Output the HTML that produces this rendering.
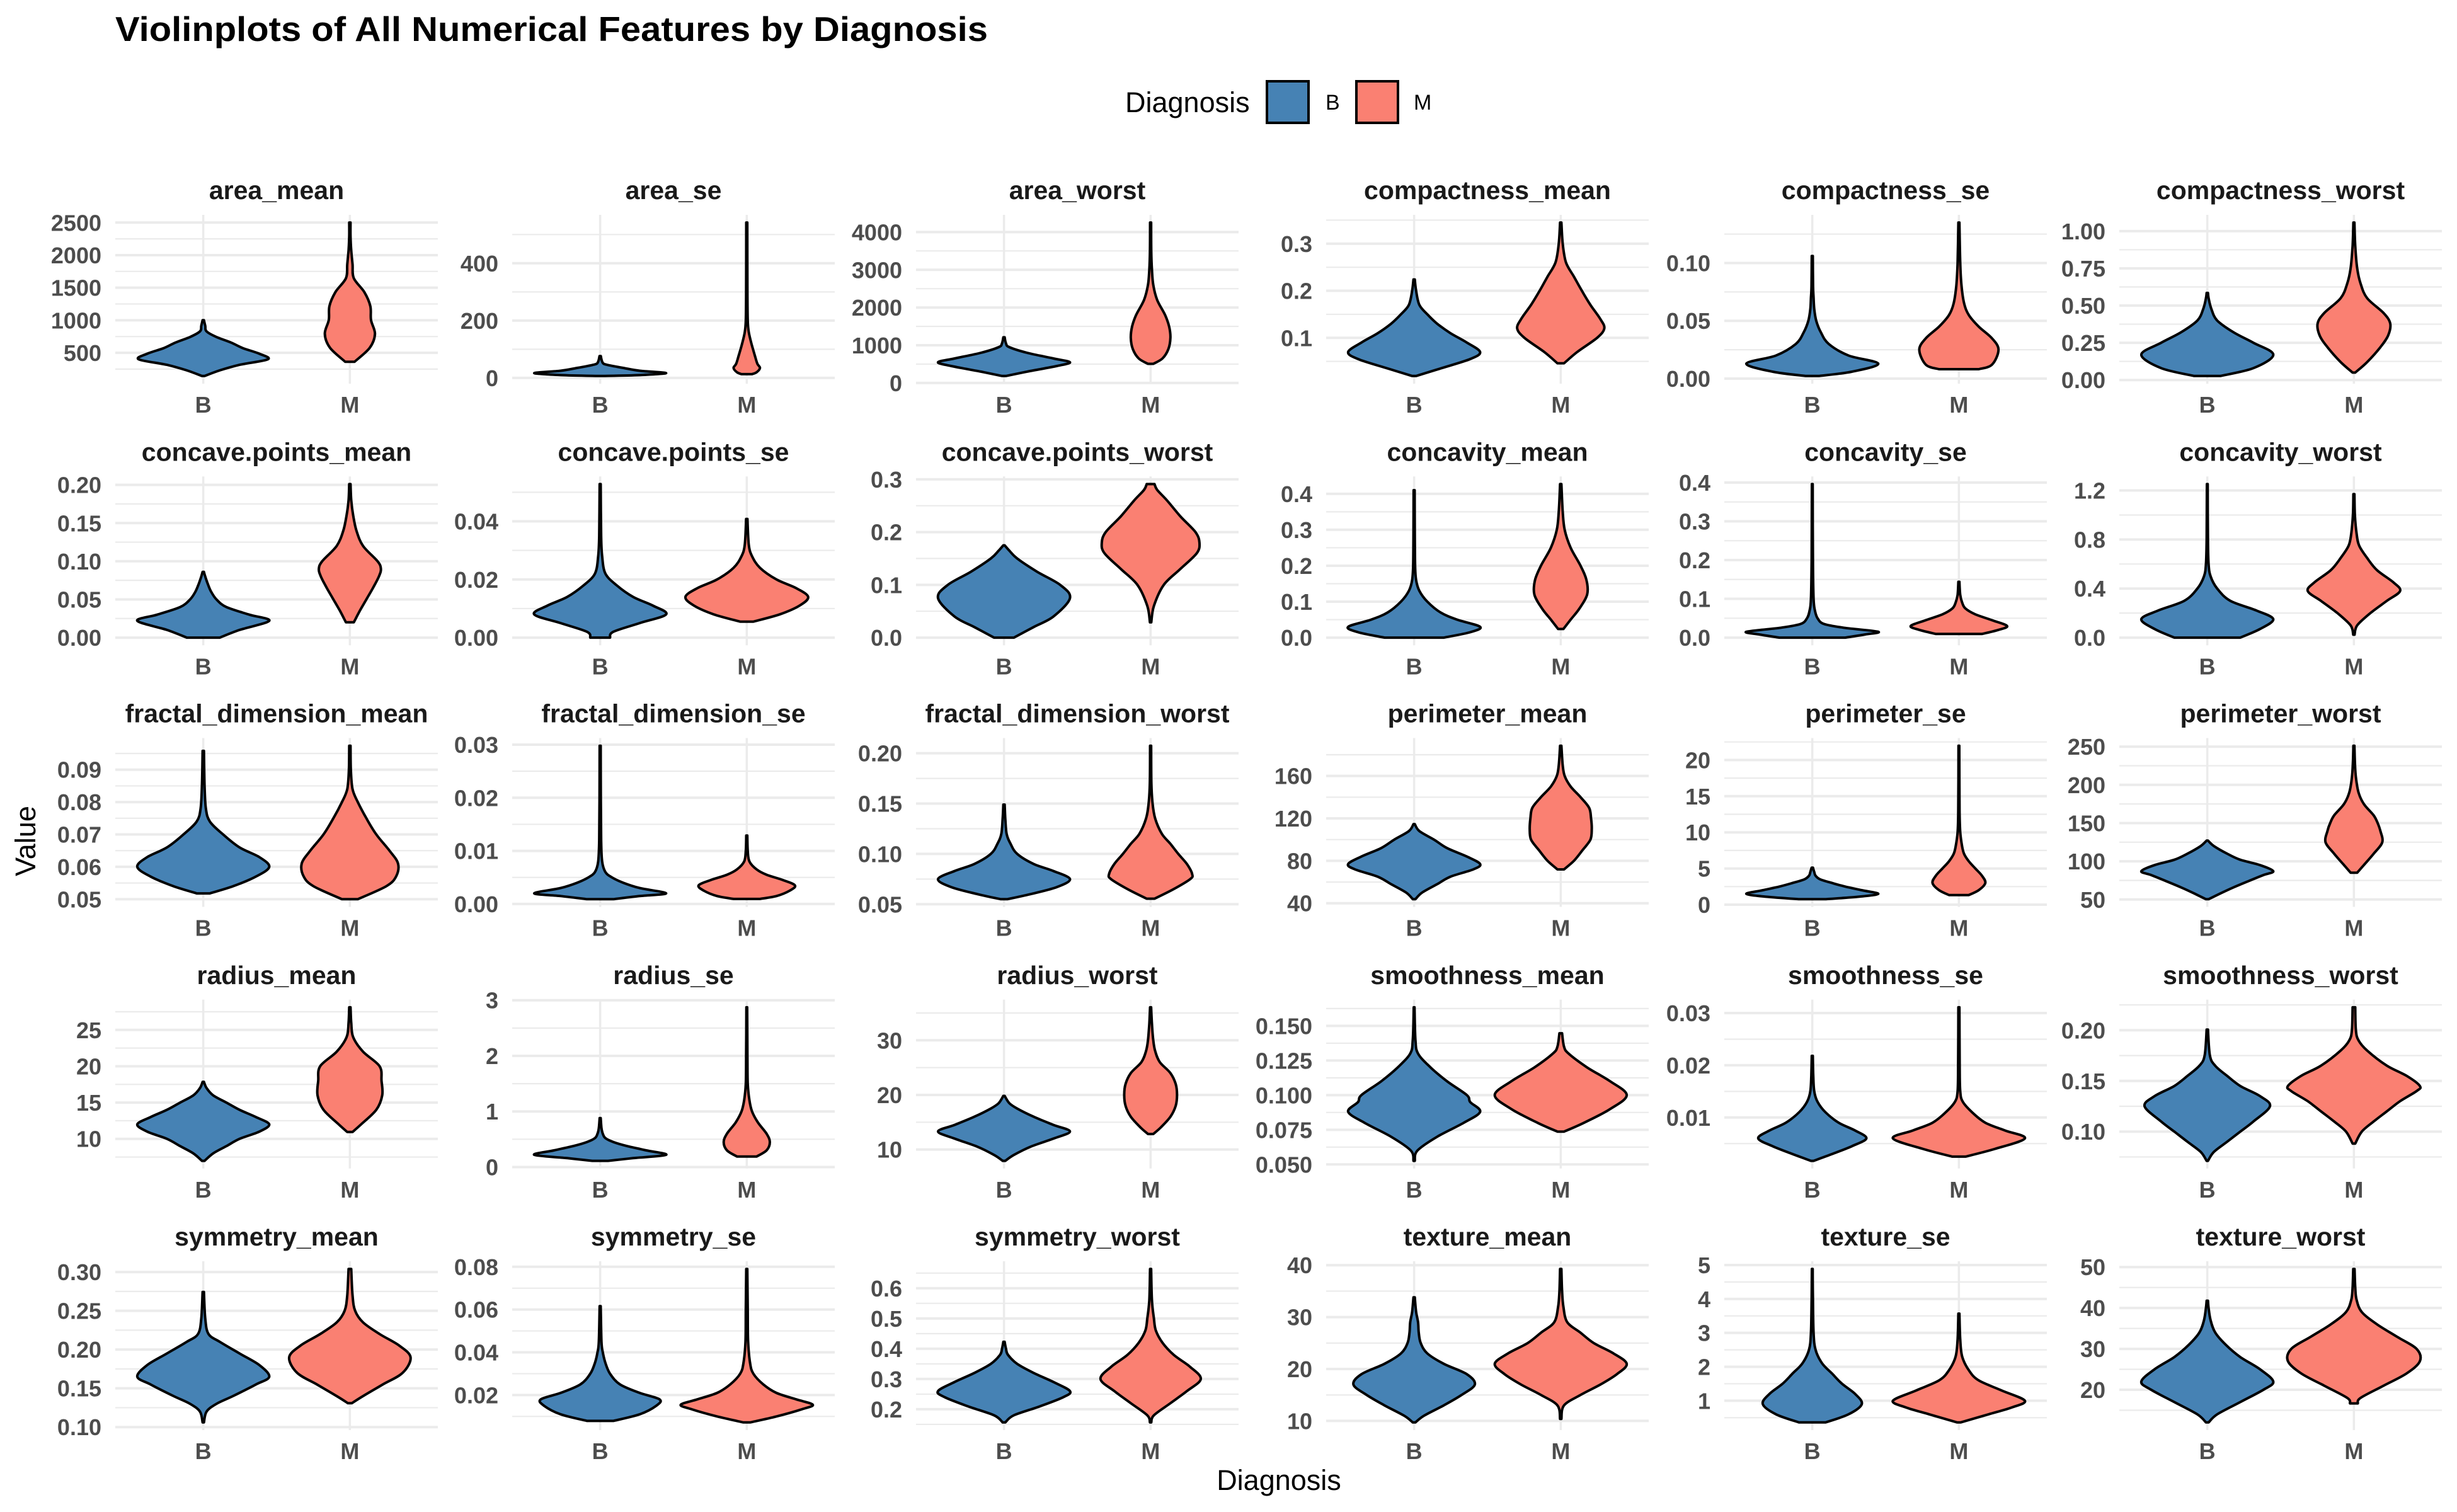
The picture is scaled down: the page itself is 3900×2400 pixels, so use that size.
<!DOCTYPE html>
<html><head><meta charset="utf-8"><title>Violinplots</title>
<style>html,body{margin:0;padding:0;background:#fff}svg{display:block}</style></head>
<body>
<svg id="chart" xmlns="http://www.w3.org/2000/svg" width="3900" height="2400" viewBox="0 0 3900 2400" font-family="'Liberation Sans', Arial, sans-serif">
<rect x="0" y="0" width="3900" height="2400" fill="#fff"/>
<text x="183" y="65" font-size="55" font-weight="bold" fill="#000" textLength="1385" lengthAdjust="spacingAndGlyphs">Violinplots of All Numerical Features by Diagnosis</text>
<g>
<text x="1786" y="178" font-size="45" fill="#000">Diagnosis</text>
<rect x="2011" y="129" width="66" height="66" fill="#4682B4" stroke="#000" stroke-width="4"/>
<text x="2104" y="174" font-size="34" fill="#000">B</text>
<rect x="2153" y="129" width="66" height="66" fill="#FA8072" stroke="#000" stroke-width="4"/>
<text x="2244" y="174" font-size="34" fill="#000">M</text>
</g>
<text transform="translate(56,1335) rotate(-90)" text-anchor="middle" font-size="45" fill="#000">Value</text>
<text x="2030" y="2365" text-anchor="middle" font-size="45" fill="#000">Diagnosis</text>
<g id="panels"></g>
</svg>
<script>
const features = ["area_mean","area_se","area_worst","compactness_mean","compactness_se","compactness_worst",
"concave.points_mean","concave.points_se","concave.points_worst","concavity_mean","concavity_se","concavity_worst",
"fractal_dimension_mean","fractal_dimension_se","fractal_dimension_worst","perimeter_mean","perimeter_se","perimeter_worst",
"radius_mean","radius_se","radius_worst","smoothness_mean","smoothness_se","smoothness_worst",
"symmetry_mean","symmetry_se","symmetry_worst","texture_mean","texture_se","texture_worst"];
const categories = ["B","M"];
const tickValues = [
[500,1000,1500,2000,2500],[0,200,400],[0,1000,2000,3000,4000],[0.1,0.2,0.3],[0,0.05,0.1],[0,0.25,0.5,0.75,1],
[0,0.05,0.1,0.15,0.2],[0,0.02,0.04],[0,0.1,0.2,0.3],[0,0.1,0.2,0.3,0.4],[0,0.1,0.2,0.3,0.4],[0,0.4,0.8,1.2],
[0.05,0.06,0.07,0.08,0.09],[0,0.01,0.02,0.03],[0.05,0.1,0.15,0.2],[40,80,120,160],[0,5,10,15,20],[50,100,150,200,250],
[10,15,20,25],[0,1,2,3],[10,20,30],[0.05,0.075,0.1,0.125,0.15],[0.01,0.02,0.03],[0.1,0.15,0.2],
[0.1,0.15,0.2,0.25,0.3],[0.02,0.04,0.06,0.08],[0.2,0.3,0.4,0.5,0.6],[10,20,30,40],[1,2,3,4,5],[20,30,40,50]];
const tickLabels = [
["500","1000","1500","2000","2500"],["0","200","400"],["0","1000","2000","3000","4000"],["0.1","0.2","0.3"],["0.00","0.05","0.10"],["0.00","0.25","0.50","0.75","1.00"],
["0.00","0.05","0.10","0.15","0.20"],["0.00","0.02","0.04"],["0.0","0.1","0.2","0.3"],["0.0","0.1","0.2","0.3","0.4"],["0.0","0.1","0.2","0.3","0.4"],["0.0","0.4","0.8","1.2"],
["0.05","0.06","0.07","0.08","0.09"],["0.00","0.01","0.02","0.03"],["0.05","0.10","0.15","0.20"],["40","80","120","160"],["0","5","10","15","20"],["50","100","150","200","250"],
["10","15","20","25"],["0","1","2","3"],["10","20","30"],["0.050","0.075","0.100","0.125","0.150"],["0.01","0.02","0.03"],["0.10","0.15","0.20"],
["0.10","0.15","0.20","0.25","0.30"],["0.02","0.04","0.06","0.08"],["0.2","0.3","0.4","0.5","0.6"],["10","20","30","40"],["1","2","3","4","5"],["20","30","40","50"]];
const bValues = [
[144,230,315,401,486,572,658,743,829,914,1000],
[6.8,10,17,25,35,45,50,60,76],
[185,300,450,550,650,800,950,1050,1210],
[0.019,0.035,0.055,0.07,0.09,0.11,0.13,0.15,0.17,0.2,0.224],
[0.0023,0.006,0.013,0.02,0.03,0.04,0.05,0.06,0.07,0.08,0.106],
[0.027,0.08,0.17,0.25,0.32,0.4,0.48,0.55,0.585],
[0,0.01,0.022,0.03,0.04,0.05,0.06,0.07,0.08,0.086],
[0,0.002,0.005,0.008,0.011,0.014,0.018,0.022,0.028,0.035,0.0528],
[0,0.02,0.04,0.075,0.1,0.125,0.15,0.165,0.175],
[0,0.015,0.03,0.05,0.07,0.1,0.13,0.16,0.2,0.3,0.41],
[0,0.008,0.015,0.025,0.035,0.05,0.07,0.1,0.2,0.396],
[0,0.07,0.15,0.22,0.3,0.4,0.5,0.6,0.8,1.252],
[0.0518,0.054,0.057,0.06,0.063,0.066,0.07,0.074,0.078,0.085,0.0958],
[0.0009,0.0015,0.002,0.003,0.004,0.005,0.006,0.008,0.012,0.02,0.0298],
[0.055,0.06,0.067,0.075,0.083,0.09,0.1,0.11,0.12,0.135,0.149],
[43.8,50,58,65,72,77,84,92,100,108,114.6],
[0.757,1.1,1.5,2,2.5,3,3.5,4,4.5,5.12],
[50.4,58,66,75,82,87,95,102,110,120,127.1],
[6.98,8,9,10,11,12,13,14,15,16,17,17.85],
[0.112,0.16,0.22,0.3,0.38,0.45,0.52,0.6,0.7,0.88],
[7.93,9,10.5,12,13.3,14.5,16,17.5,18.5,19.82],
[0.0526,0.06,0.07,0.08,0.088,0.095,0.1,0.11,0.12,0.13,0.14,0.1634],
[0.0017,0.003,0.0045,0.006,0.0075,0.009,0.011,0.013,0.015,0.018,0.0218],
[0.0712,0.08,0.09,0.1,0.11,0.125,0.135,0.145,0.155,0.165,0.175,0.2006],
[0.106,0.12,0.13,0.14,0.155,0.165,0.18,0.195,0.21,0.22,0.24,0.2743],
[0.0079,0.011,0.015,0.018,0.021,0.025,0.03,0.035,0.04,0.045,0.0616],
[0.1566,0.18,0.21,0.24,0.26,0.29,0.32,0.35,0.38,0.4,0.4228],
[9.71,11,13,15,17,19,21,23,25,27,29,31,33.81],
[0.3602,0.6,0.9,1.2,1.5,1.8,2.1,2.5,3,4,4.885],
[12.02,14,17,20,22,25,28,31,34,37,40,41.78]];
const bWidths = [
[0.02,0.25,0.55,0.98,0.85,0.6,0.42,0.2,0.05,0.03,0.01],
[0.05,0.6,1.0,0.6,0.35,0.12,0.05,0.025,0.01],
[0.03,0.35,0.8,1.0,0.75,0.35,0.08,0.03,0.01],
[0.03,0.4,0.85,1.0,0.8,0.55,0.35,0.2,0.08,0.03,0.01],
[0.1,0.6,1.0,0.55,0.25,0.13,0.06,0.03,0.02,0.012,0.008],
[0.2,0.7,1.0,0.7,0.4,0.15,0.06,0.02,0.01],
[0.25,0.55,1.0,0.7,0.35,0.2,0.12,0.07,0.03,0.01],
[0.15,0.2,0.6,1.0,0.8,0.5,0.25,0.08,0.03,0.015,0.008],
[0.15,0.45,0.75,1.0,0.85,0.5,0.2,0.08,0.01],
[0.45,0.85,1.0,0.65,0.4,0.2,0.08,0.03,0.015,0.01,0.008],
[0.5,0.8,1.0,0.5,0.18,0.08,0.04,0.02,0.01,0.006],
[0.5,0.8,1.0,0.75,0.35,0.15,0.05,0.02,0.01,0.006],
[0.1,0.45,0.8,1.0,0.85,0.55,0.3,0.1,0.04,0.02,0.01],
[0.2,0.6,1.0,0.6,0.35,0.18,0.08,0.03,0.015,0.01,0.008],
[0.05,0.4,0.8,1.0,0.75,0.45,0.2,0.1,0.04,0.02,0.01],
[0.02,0.12,0.35,0.55,0.9,1.0,0.8,0.5,0.3,0.08,0.01],
[0.2,0.7,1.0,0.75,0.5,0.3,0.12,0.05,0.03,0.01],
[0.02,0.2,0.4,0.65,0.85,1.0,0.8,0.5,0.3,0.1,0.01],
[0.02,0.15,0.35,0.55,0.85,1.0,0.8,0.55,0.35,0.15,0.05,0.01],
[0.12,0.5,1.0,0.7,0.4,0.2,0.08,0.04,0.02,0.008],
[0.02,0.15,0.4,0.75,1.0,0.75,0.45,0.2,0.08,0.01],
[0.01,0.05,0.35,0.75,1.0,0.85,0.8,0.5,0.25,0.06,0.02,0.006],
[0.02,0.3,0.6,0.82,0.65,0.4,0.2,0.08,0.03,0.015,0.008],
[0.01,0.1,0.3,0.5,0.7,0.95,0.8,0.5,0.3,0.12,0.04,0.01],
[0.01,0.05,0.2,0.45,0.8,1.0,0.85,0.55,0.25,0.08,0.03,0.01],
[0.2,0.6,0.85,0.9,0.6,0.3,0.15,0.08,0.04,0.02,0.008],
[0.02,0.15,0.55,0.9,1.0,0.75,0.45,0.2,0.06,0.03,0.01],
[0.02,0.15,0.45,0.72,0.92,0.8,0.45,0.2,0.1,0.07,0.06,0.03,0.01],
[0.2,0.55,0.75,0.65,0.45,0.3,0.15,0.05,0.02,0.01,0.006],
[0.02,0.15,0.5,0.85,1.0,0.8,0.5,0.28,0.12,0.05,0.02,0.01]];
const mValues = [
[362,576,790,1004,1217,1431,1645,1859,2073,2287,2501],
[13.3,20,35,50,80,120,160,200,300,542],
[508,650,900,1200,1500,1800,2200,2600,3000,3500,4254],
[0.046,0.07,0.1,0.12,0.14,0.17,0.2,0.23,0.26,0.3,0.345],
[0.0082,0.012,0.025,0.035,0.045,0.055,0.065,0.08,0.1,0.135],
[0.05,0.12,0.22,0.3,0.38,0.45,0.55,0.65,0.75,0.9,1.058],
[0.02,0.035,0.05,0.065,0.08,0.09,0.1,0.12,0.14,0.16,0.18,0.201],
[0.0055,0.008,0.011,0.014,0.017,0.02,0.024,0.028,0.032,0.0408],
[0.029,0.06,0.1,0.13,0.16,0.18,0.2,0.23,0.26,0.28,0.291],
[0.024,0.05,0.08,0.12,0.16,0.2,0.25,0.3,0.35,0.427],
[0.0094,0.02,0.03,0.045,0.06,0.075,0.09,0.11,0.144],
[0.024,0.1,0.2,0.3,0.38,0.45,0.55,0.65,0.75,0.85,1.0,1.17],
[0.05,0.054,0.057,0.061,0.065,0.07,0.075,0.08,0.084,0.09,0.0974],
[0.00095,0.0015,0.0025,0.0035,0.0045,0.0055,0.0065,0.008,0.01,0.0129],
[0.0555,0.065,0.075,0.08,0.09,0.1,0.11,0.12,0.135,0.15,0.17,0.2075],
[71.9,80,90,100,110,120,130,140,150,160,170,188.5],
[1.33,2,3,4,5,6,7,8,10,13,21.98],
[85.1,95,110,125,140,150,160,175,190,210,230,251.2],
[10.95,12,14,16,18,20,22,24,26,28.11],
[0.19,0.3,0.45,0.6,0.8,1.0,1.2,1.5,2,2.873],
[12.84,14,16,18,20,22,24,26,28,30,33,36.04],
[0.0737,0.08,0.09,0.1,0.11,0.12,0.13,0.135,0.1447],
[0.0025,0.004,0.006,0.0075,0.009,0.011,0.013,0.015,0.02,0.0311],
[0.0882,0.1,0.11,0.12,0.13,0.14,0.145,0.155,0.165,0.18,0.19,0.2,0.2226],
[0.1308,0.14,0.155,0.17,0.19,0.205,0.22,0.235,0.25,0.27,0.304],
[0.0072,0.01,0.0135,0.0155,0.018,0.021,0.025,0.03,0.035,0.045,0.06,0.079],
[0.1565,0.18,0.22,0.26,0.3,0.34,0.38,0.42,0.46,0.5,0.56,0.6638],
[10.38,13,15,17,19,21,23,25,27,29,32,35,39.28],
[0.3621,0.6,0.8,1.0,1.3,1.6,1.9,2.3,2.8,3.568],
[16.67,18,21,24,27,30,33,36,39,42,45,49.54]];
const mWidths = [
[0.07,0.3,0.38,0.32,0.31,0.22,0.06,0.04,0.02,0.01,0.01],
[0.08,0.15,0.2,0.16,0.12,0.07,0.03,0.015,0.01,0.008],
[0.04,0.18,0.27,0.3,0.28,0.22,0.1,0.04,0.02,0.01,0.008],
[0.05,0.25,0.55,0.66,0.6,0.45,0.32,0.2,0.08,0.03,0.01],
[0.3,0.5,0.6,0.5,0.3,0.15,0.08,0.04,0.02,0.008],
[0.02,0.2,0.4,0.52,0.55,0.45,0.2,0.1,0.05,0.02,0.008],
[0.06,0.15,0.25,0.35,0.44,0.47,0.42,0.2,0.1,0.05,0.02,0.01],
[0.1,0.5,0.8,0.93,0.75,0.45,0.2,0.08,0.03,0.01],
[0.01,0.05,0.2,0.45,0.7,0.74,0.68,0.45,0.25,0.1,0.06],
[0.04,0.15,0.28,0.4,0.39,0.3,0.15,0.06,0.03,0.01],
[0.35,0.6,0.73,0.5,0.25,0.1,0.05,0.02,0.008],
[0.01,0.05,0.25,0.5,0.7,0.6,0.35,0.2,0.08,0.04,0.015,0.008],
[0.12,0.55,0.7,0.73,0.6,0.4,0.25,0.12,0.04,0.015,0.01],
[0.2,0.45,0.65,0.73,0.55,0.3,0.15,0.04,0.015,0.008],
[0.06,0.35,0.6,0.63,0.55,0.42,0.3,0.17,0.07,0.03,0.012,0.008],
[0.05,0.2,0.33,0.45,0.47,0.46,0.43,0.3,0.15,0.06,0.03,0.01],
[0.15,0.3,0.4,0.35,0.25,0.15,0.08,0.05,0.02,0.01,0.006],
[0.05,0.15,0.3,0.43,0.4,0.36,0.3,0.15,0.07,0.03,0.015,0.008],
[0.04,0.17,0.4,0.49,0.48,0.45,0.2,0.05,0.02,0.01],
[0.15,0.3,0.35,0.3,0.17,0.08,0.04,0.015,0.01,0.006],
[0.04,0.15,0.3,0.38,0.4,0.38,0.3,0.14,0.07,0.04,0.02,0.008],
[0.05,0.35,0.75,1.0,0.75,0.4,0.12,0.05,0.02],
[0.1,0.55,1.0,0.7,0.4,0.2,0.06,0.02,0.012,0.008],
[0.02,0.12,0.3,0.5,0.7,0.95,1.0,0.8,0.5,0.2,0.07,0.03,0.02],
[0.03,0.2,0.5,0.8,0.92,0.75,0.45,0.2,0.08,0.04,0.02],
[0.05,0.45,0.85,1.0,0.75,0.45,0.25,0.1,0.05,0.02,0.015,0.008],
[0.01,0.05,0.3,0.55,0.76,0.6,0.35,0.18,0.08,0.05,0.02,0.008],
[0.01,0.05,0.3,0.6,0.85,1.0,0.8,0.5,0.3,0.1,0.04,0.02,0.01],
[0.03,0.45,0.8,1.0,0.65,0.3,0.15,0.05,0.02,0.008],
[0.06,0.1,0.45,0.8,1.0,0.95,0.65,0.35,0.12,0.04,0.02,0.01]];

const NS = "http://www.w3.org/2000/svg";
const colLefts = [183, 813, 1454, 2105, 2737, 3364];
const panelW = 512, panelH = 268, rowTop0 = 341, rowStep = 415.25;
const maxHalf = 0.45 * panelW / 2.2;
const fills = ["#4682B4", "#FA8072"];
const root = document.getElementById("panels");

function mk(tag, attrs, parent) {
  const e = document.createElementNS(NS, tag);
  for (const k in attrs) e.setAttribute(k, attrs[k]);
  parent.appendChild(e);
  return e;
}
function smoothSide(pts) {
  let d = "";
  for (let i = 0; i < pts.length - 1; i++) {
    const p0 = pts[Math.max(i - 1, 0)], p1 = pts[i], p2 = pts[i + 1], p3 = pts[Math.min(i + 2, pts.length - 1)];
    const c1 = [p1[0] + (p2[0] - p0[0]) / 6, p1[1] + (p2[1] - p0[1]) / 6];
    const c2 = [p2[0] - (p3[0] - p1[0]) / 6, p2[1] - (p3[1] - p1[1]) / 6];
    d += " C" + c1[0].toFixed(1) + "," + c1[1].toFixed(1) + " " + c2[0].toFixed(1) + "," + c2[1].toFixed(1) + " " + p2[0].toFixed(1) + "," + p2[1].toFixed(1);
  }
  return d;
}

features.forEach(function (name, i) {
  const col = i % 6, row = Math.floor(i / 6);
  const left = colLefts[col], top = rowTop0 + rowStep * row, bottom = top + panelH;
  const allVals = bValues[i].concat(mValues[i]);
  const lo = Math.min.apply(null, allVals), hi = Math.max.apply(null, allVals);
  const pad = (hi - lo) * 0.05;
  const d0 = lo - pad, d1 = hi + pad;
  const yScale = function (v) { return bottom - (v - d0) / (d1 - d0) * panelH; };
  const xScale = function (c) { return left + (c + 1 - 0.4) / 2.2 * panelW; };

  const g = mk("g", {}, root);
  
  

  const ticks = tickValues[i];
  const step = ticks[1] - ticks[0];
  for (let k = -1; k <= ticks.length; k++) {
    const v = ticks[0] + step * (k + 0.5);
    if (v < d0 || v > d1) continue;
    const ln = mk("line", { x1: left, x2: left + panelW, y1: yScale(v), y2: yScale(v), stroke: "#ebebeb", "stroke-width": 2.2 }, g);
    
    
  }
  ticks.forEach(function (v, t) {
    if (v < d0 || v > d1) return;
    const y = yScale(v);
    const ln = mk("line", { x1: left, x2: left + panelW, y1: y, y2: y, stroke: "#ebebeb", "stroke-width": 4 }, g);
    
    
    const tx = mk("text", { x: left - 22, y: y + 13, "text-anchor": "end", "font-size": 36, "font-weight": "bold", fill: "#4d4d4d" }, g);
    tx.textContent = tickLabels[i][t];
    
    
  });
  categories.forEach(function (c, ci) {
    const x = xScale(ci);
    const ln = mk("line", { x1: x, x2: x, y1: top, y2: bottom, stroke: "#ebebeb", "stroke-width": 3.5 }, g);
    
    
    const tx = mk("text", { x: x, y: bottom + 46, "text-anchor": "middle", "font-size": 36, "font-weight": "bold", fill: "#4d4d4d" }, g);
    tx.textContent = c;
    
    
  });
  const st = mk("text", { x: left + panelW / 2, y: top - 25, "text-anchor": "middle", "font-size": 41, "font-weight": "bold", fill: "#1a1a1a" }, g);
  st.textContent = name;
  
  
  [[bValues[i], bWidths[i]], [mValues[i], mWidths[i]]].forEach(function (pair, ci) {
    const vals = pair[0], ws = pair[1];
    const cx = xScale(ci);
    const right = vals.map(function (v, k) { return [cx + ws[k] * maxHalf, yScale(v)]; });
    const leftSide = vals.map(function (v, k) { return [cx - ws[k] * maxHalf, yScale(v)]; }).reverse();
    let d = "M" + right[0][0].toFixed(1) + "," + right[0][1].toFixed(1) + smoothSide(right);
    d += " L" + leftSide[0][0].toFixed(1) + "," + leftSide[0][1].toFixed(1) + smoothSide(leftSide) + " Z";
    const p = mk("path", { d: d, fill: fills[ci], stroke: "#000", "stroke-width": 4, "stroke-linejoin": "round" }, g);
    
    
  });
});
</script>
</body></html>
